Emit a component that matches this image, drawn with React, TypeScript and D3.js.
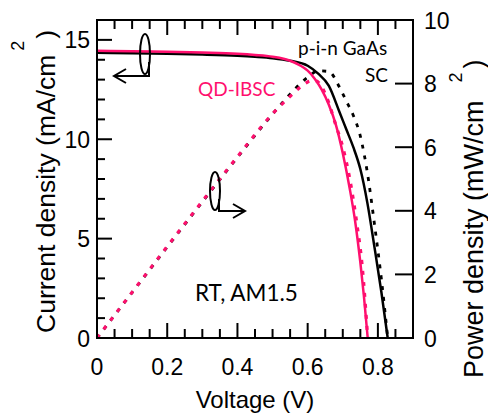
import React from "react";
import * as d3 from "d3";

// ---- Data ----
// p-i-n GaAs SC : current density J (mA/cm2) vs voltage V (V)
const V_GAAS_J = [0, 0.1, 0.2, 0.3, 0.4, 0.45, 0.5, 0.55, 0.6, 0.63, 0.66, 0.69, 0.71, 0.73, 0.75, 0.77, 0.79, 0.81, 0.828];
const J_GAAS = [14.35, 14.33, 14.3, 14.26, 14.2, 14.15, 14.08, 13.95, 13.7, 13.3, 12.7, 11.4, 10.5, 9.6, 8.5, 6.8, 4.6, 2.3, 0];
// QD-IBSC : current density
const V_QD_J = [0, 0.1, 0.2, 0.3, 0.4, 0.45, 0.5, 0.55, 0.58, 0.6, 0.62, 0.64, 0.66, 0.68, 0.7, 0.72, 0.735, 0.75, 0.76, 0.771];
const J_QD = [14.45, 14.43, 14.4, 14.36, 14.3, 14.24, 14.15, 13.95, 13.7, 13.45, 13.05, 12.5, 11.75, 10.75, 9.3, 7.5, 5.9, 3.8, 2.15, 0];
// p-i-n GaAs SC : power density P (mW/cm2)
const V_GAAS_P = [0, 0.1, 0.2, 0.3, 0.4, 0.5, 0.55, 0.6, 0.63, 0.66, 0.69, 0.71, 0.73, 0.75, 0.77, 0.79, 0.81, 0.828];
const P_GAAS = [0, 1.43, 2.86, 4.28, 5.68, 7.04, 7.67, 8.2, 8.4, 8.38, 7.9, 7.45, 7.0, 6.35, 5.2, 3.6, 1.85, 0];
// QD-IBSC : power density
const V_QD_P = [0, 0.1, 0.2, 0.3, 0.4, 0.5, 0.55, 0.58, 0.6, 0.62, 0.64, 0.66, 0.68, 0.7, 0.72, 0.74, 0.755, 0.771];
const P_QD = [0, 1.44, 2.88, 4.3, 5.7, 7.05, 7.6, 7.9, 8.05, 8.1, 7.9, 7.4, 6.7, 6.0, 5.0, 3.6, 2.3, 0];

const X_LABELS = ["0", "0.2", "0.4", "0.6", "0.8"];
const X_LABEL_VALUES = [0, 0.2, 0.4, 0.6, 0.8];
const YL_LABEL_VALUES = [0, 5, 10, 15];
const YR_LABEL_VALUES = [0, 2, 4, 6, 8, 10];

const PINK = "#ff0f6e";
const W = 488, H = 414;
const X0 = 97, X1 = 413, Y0 = 338, Y1 = 20;
const SANS = "'Liberation Sans', Arial, sans-serif";
const NOTE = "Lato, 'Open Sans', sans-serif";

export default function App() {
  const x = d3.scaleLinear().domain([0, 0.9]).range([X0, X1]);
  const yJ = d3.scaleLinear().domain([0, 16]).range([Y0, Y1]);
  const yP = d3.scaleLinear().domain([0, 10]).range([Y0, Y1]);

  const zip = (a: number[], b: number[]) => a.map((v, i) => [v, b[i]] as [number, number]);
  const lineJ = d3.line<[number, number]>().x(d => x(d[0])).y(d => yJ(d[1])).curve(d3.curveMonotoneX);
  const lineP = d3.line<[number, number]>().x(d => x(d[0])).y(d => yP(d[1])).curve(d3.curveMonotoneX);

  const xTicks = d3.range(1, 18).map(i => i * 0.05);
  const yTicks = d3.range(1, 16);

  const isMajorX = (v: number) => Math.abs(v / 0.2 - Math.round(v / 0.2)) < 1e-6;

  return (
    <svg width={W} height={H} style={{ position: "absolute", left: 0, top: 0, background: "#fff" }}>
      <rect x={0} y={0} width={W} height={H} fill="#fff" />
      {/* curves */}
      <path d={lineP(zip(V_GAAS_P, P_GAAS)) || ""} fill="none" stroke="#000" strokeWidth={2.8} strokeDasharray="4,7" />
      <path d={lineP(zip(V_QD_P, P_QD)) || ""} fill="none" stroke={PINK} strokeWidth={3.2} strokeDasharray="4,7" />
      <path d={lineJ(zip(V_GAAS_J, J_GAAS)) || ""} fill="none" stroke="#000" strokeWidth={2.5} />
      <path d={lineJ(zip(V_QD_J, J_QD)) || ""} fill="none" stroke={PINK} strokeWidth={2.5} />

      {/* frame */}
      <rect x={X0} y={Y1} width={X1 - X0} height={Y0 - Y1} fill="none" stroke="#000" strokeWidth={2} />

      {/* x ticks bottom & top */}
      {xTicks.map(v => {
        const len = isMajorX(v) ? 15 : 9;
        return (
          <g key={"xt" + v}>
            <line x1={x(v)} x2={x(v)} y1={Y0} y2={Y0 - len} stroke="#000" strokeWidth={2} />
            <line x1={x(v)} x2={x(v)} y1={Y1} y2={Y1 + len} stroke="#000" strokeWidth={2} />
          </g>
        );
      })}
      {/* left ticks */}
      {yTicks.map(v => {
        const len = v % 5 === 0 ? 15 : 8;
        return <line key={"yt" + v} x1={X0} x2={X0 + len} y1={yJ(v)} y2={yJ(v)} stroke="#000" strokeWidth={2} />;
      })}
      {/* right ticks */}
      {YR_LABEL_VALUES.map(v => (
        <line key={"yr" + v} x1={X1} x2={X1 - 18} y1={yP(v)} y2={yP(v)} stroke="#000" strokeWidth={2} />
      ))}

      {/* tick labels */}
      {X_LABEL_VALUES.map((v, i) => (
        <text key={"xl" + v} x={x(v)} y={Y0 + 37} textAnchor="middle" fontFamily={SANS} fontSize={23}>{X_LABELS[i]}</text>
      ))}
      {YL_LABEL_VALUES.map(v => (
        <text key={"yl" + v} x={90} y={yJ(v) + 8.5} textAnchor="end" fontFamily={SANS} fontSize={23}>{v}</text>
      ))}
      {YR_LABEL_VALUES.map(v => (
        <text key={"yrl" + v} x={424} y={yP(v) + 8.5} textAnchor="start" fontFamily={SANS} fontSize={23}>{v}</text>
      ))}

      {/* axis titles */}
      <text x={(X0 + X1) / 2 + 0} y={408} textAnchor="middle" fontFamily={SANS} fontSize={24}>Voltage (V)</text>
      <text transform="translate(55,333) rotate(-90)" fontFamily={SANS} fontSize={26.5}>
        Current density (mA/cm<tspan fontSize={18} dx={4} dy={-31}>2</tspan><tspan dx={2} dy={31}>)</tspan>
      </text>
      <text transform="translate(483,378) rotate(-90)" fontFamily={SANS} fontSize={27}>
        Power density (mW/cm<tspan fontSize={18} dx={18} dy={-21}>2</tspan><tspan dx={4} dy={21}>)</tspan>
      </text>

      {/* annotations */}
      <text x={298} y={55} fontFamily={NOTE} fontSize={19}>p-i-n GaAs</text>
      <text x={388} y={82} textAnchor="end" fontFamily={NOTE} fontSize={19}>SC</text>
      <text x={198} y={96} fontFamily={NOTE} fontSize={19} fill={PINK}>QD-IBSC</text>
      <text x={195} y={301} fontFamily={NOTE} fontSize={22.5}>RT, AM1.5</text>

      {/* arrows pointing at the axes */}
      <g fill="none" stroke="#000" strokeWidth={2}>
        <ellipse cx={145} cy={54} rx={5} ry={20} />
        <path d="M149,62 L149,76 L114,76" />
        <path d="M126,69 L114,76 L126,83" />
        <ellipse cx={215} cy={191} rx={5} ry={19} />
        <path d="M219,199 L219,211 L245,211" />
        <path d="M233,204 L245,211 L233,218" />
      </g>
    </svg>
  );
}
